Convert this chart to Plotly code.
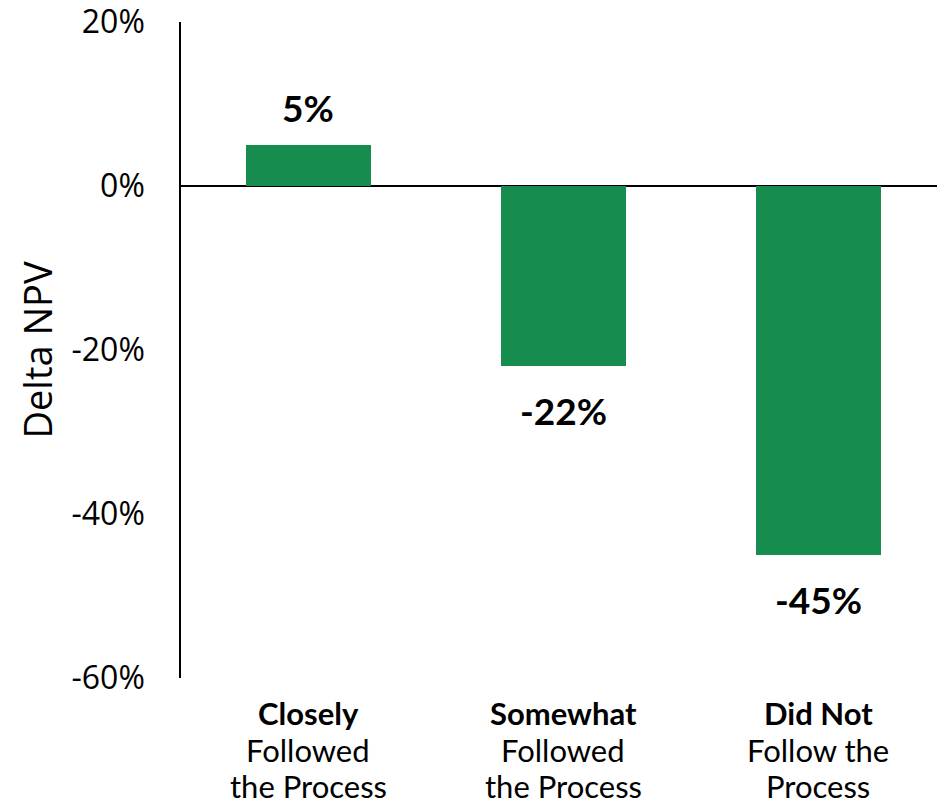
import plotly.graph_objects as go

# Delta NPV by how closely the process was followed
categories = ["Closely Followed the Process", "Somewhat Followed the Process", "Did Not Follow the Process"]
label_lines = [
    ["<b>Closely</b>", "Followed", "the Process"],
    ["<b>Somewhat</b>", "Followed", "the Process"],
    ["<b>Did Not</b>", "Follow the", "Process"],
]
delta_npv = [5, -22, -45]
y_ticks = [20, 0, -20, -40, -60]

GREEN = "#178C4F"
TICK_FONT = "Open Sans, Segoe UI, sans-serif"
CAT_FONT = "Lato, sans-serif"

x_pos = list(range(len(categories)))

fig = go.Figure()
fig.add_trace(go.Bar(
    x=x_pos,
    y=delta_npv,
    marker=dict(color=GREEN, line=dict(width=0)),
    width=0.49,
    hoverinfo="skip",
))

# value labels above positive bars, below negative bars
for xi, v in zip(x_pos, delta_npv):
    fig.add_annotation(
        x=xi, y=v, text=f"<b>{v}%</b>", showarrow=False,
        yshift=38 if v >= 0 else -44,
        font=dict(family=CAT_FONT, size=37, color="#000"),
    )

# three-line category labels under each bar, tighter line spacing
line_shifts = [35, 72, 108]
for xi, lines in zip(x_pos, label_lines):
    for line, shift in zip(lines, line_shifts):
        fig.add_annotation(
            x=xi, xref="x", y=0, yref="paper", yanchor="middle",
            text=line, showarrow=False,
            yshift=-shift,
            font=dict(family=CAT_FONT, size=31, color="#000"),
        )

fig.update_layout(
    width=937, height=806,
    margin=dict(l=181, r=0, t=22, b=128),
    plot_bgcolor="white", paper_bgcolor="white",
    showlegend=False,
    bargap=0,
)
fig.update_xaxes(
    range=[-0.5, 2.465],
    tickvals=x_pos, showticklabels=False,
    showline=False, showgrid=False, zeroline=False, ticks="",
)
fig.update_yaxes(
    range=[-60, 20],
    tickvals=y_ticks, ticktext=[f"{t}%" for t in y_ticks],
    tickfont=dict(family=TICK_FONT, size=32, color="#000"),
    ticklabeloverflow="allow",
    showline=True, linecolor="#000", linewidth=1.5,
    zeroline=True, zerolinecolor="#000", zerolinewidth=1.5,
    showgrid=False, ticks="", ticklabelstandoff=28,
    title=dict(text="Delta NPV", font=dict(family=TICK_FONT, size=38, color="#000"), standoff=7),
)

fig.write_html("out.html")
